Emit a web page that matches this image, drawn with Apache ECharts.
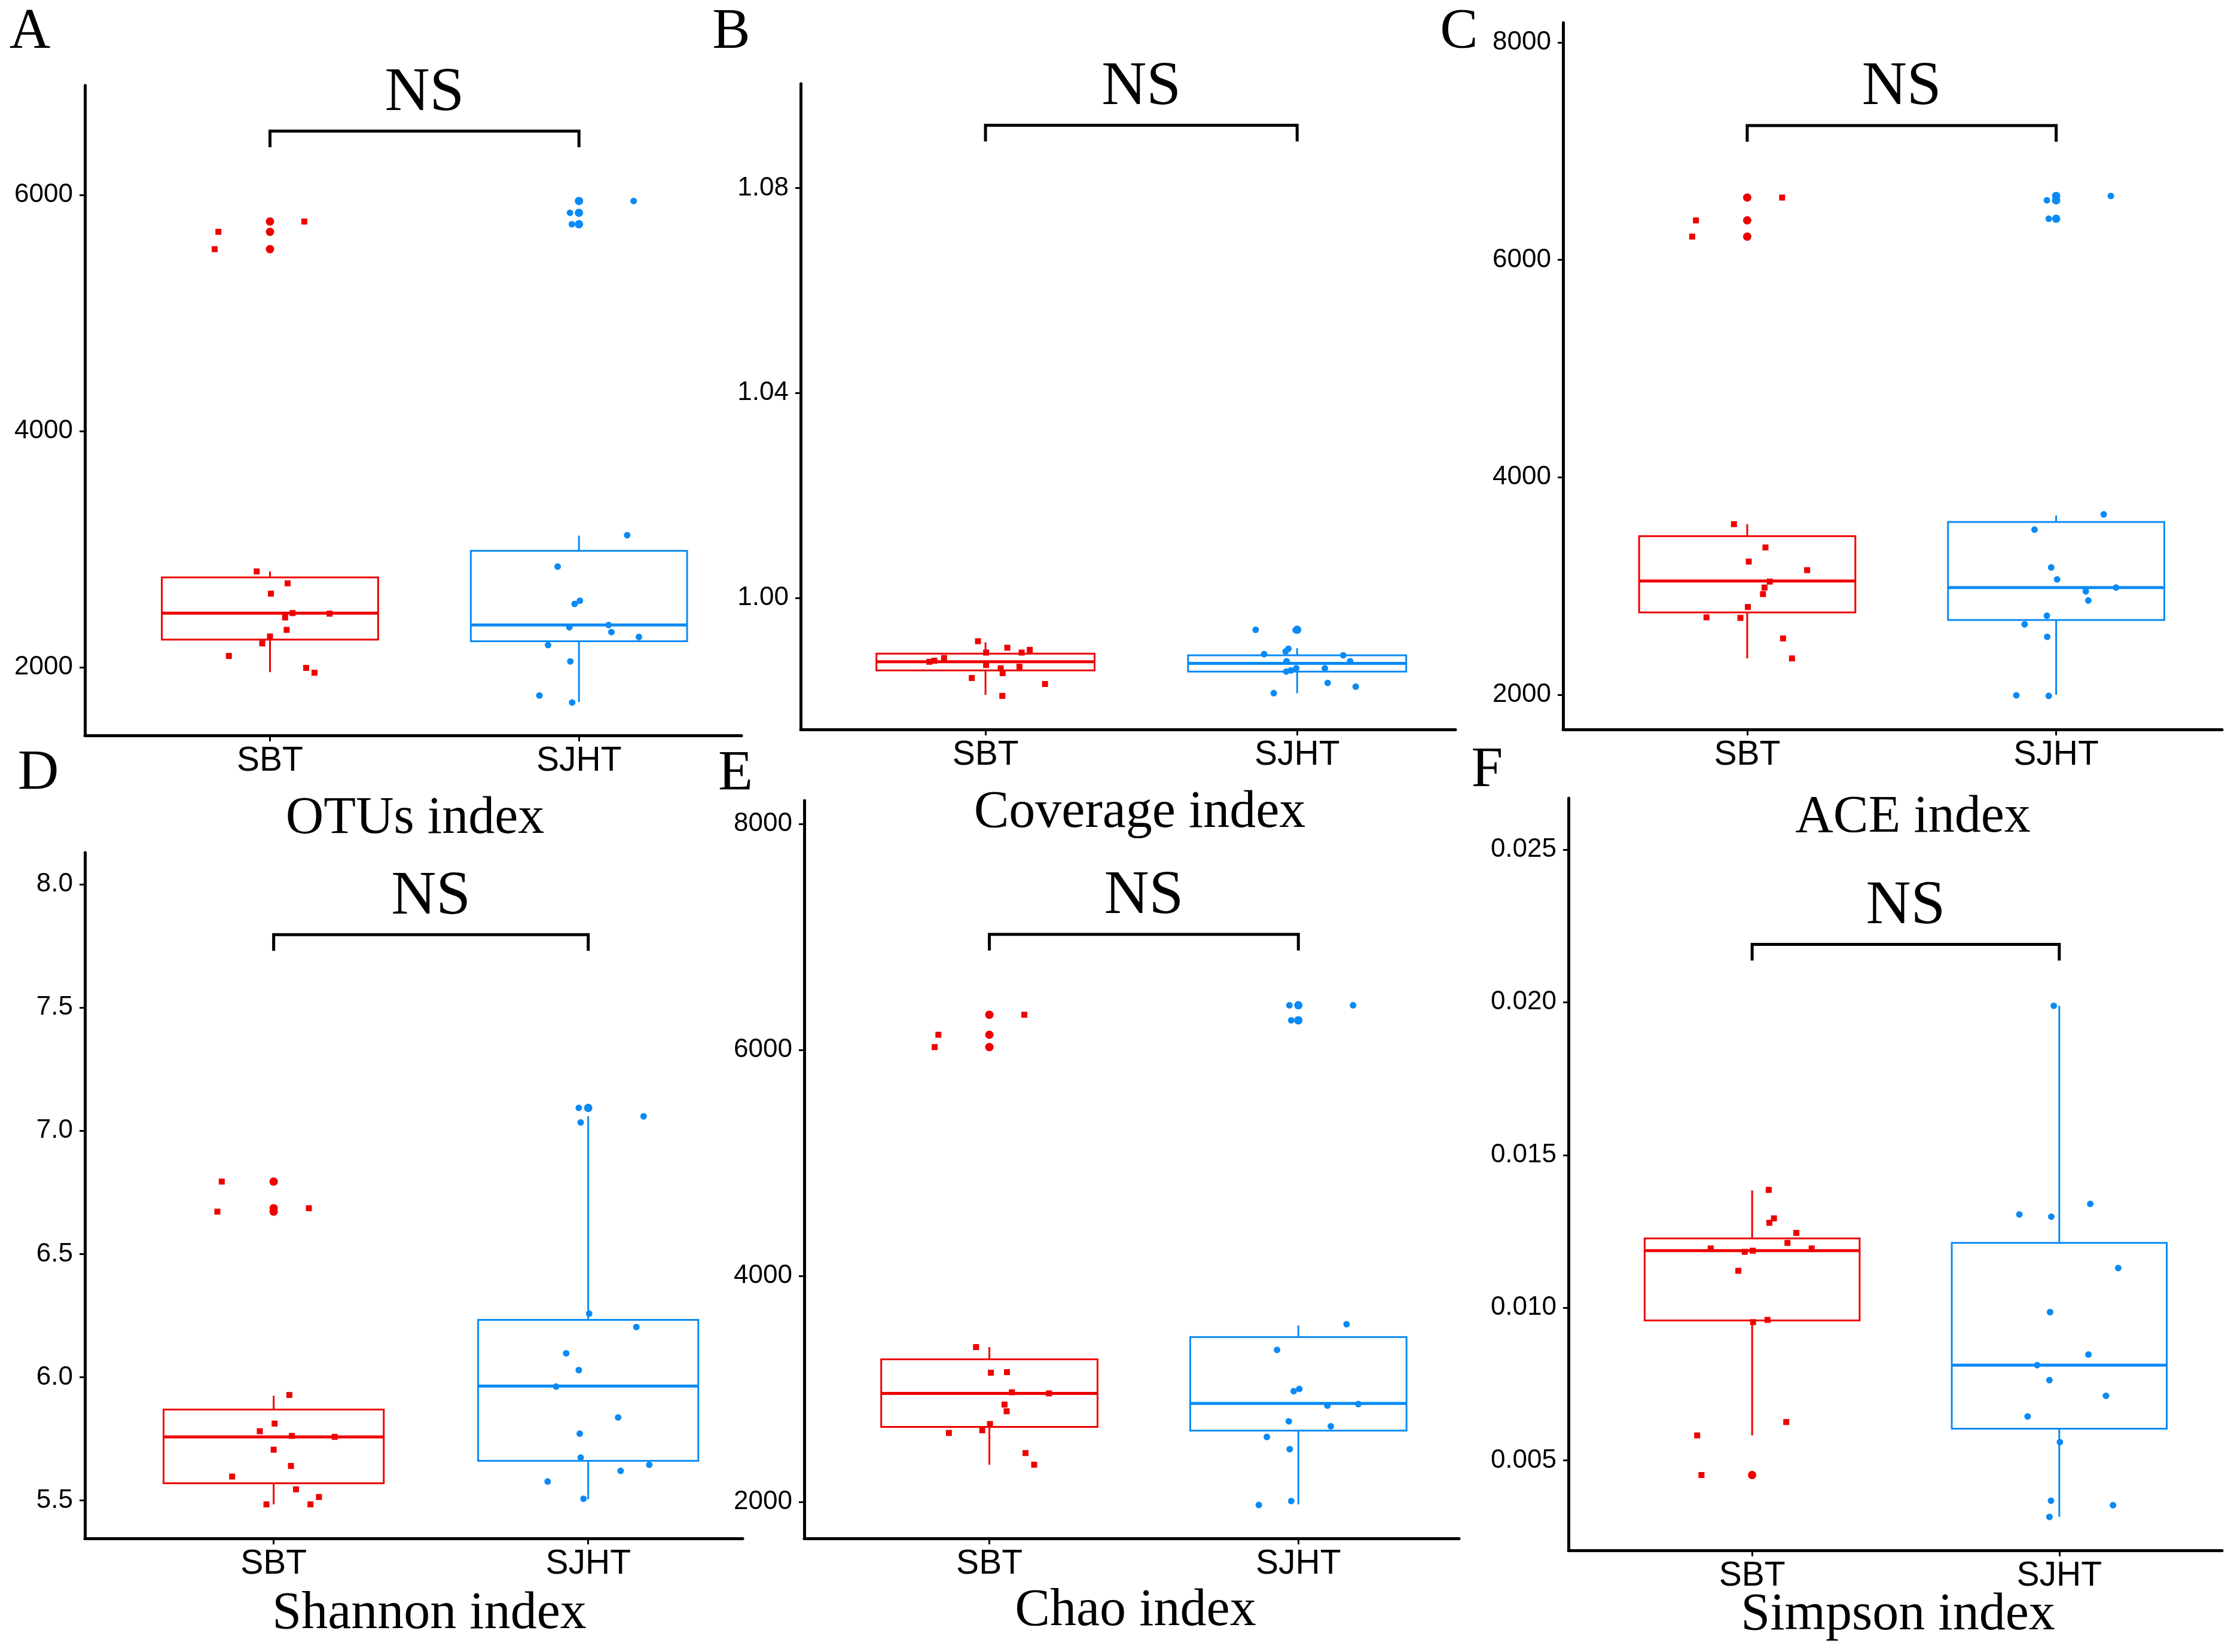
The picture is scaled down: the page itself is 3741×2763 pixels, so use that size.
<!DOCTYPE html>
<html>
<head>
<meta charset="utf-8">
<title>Alpha diversity</title>
<script src="https://cdn.jsdelivr.net/npm/echarts@6/dist/echarts.min.js"></script>
<style>
  html, body { margin: 0; padding: 0; background: #fff; }
  #main { width: 3741px; height: 2763px; }
</style>
</head>
<body>
<div id="main"></div>
<script>
// groups
const groups = ['SBT', 'SJHT'];

// box stats per group: [lower whisker, q1, median, q3, upper whisker]
// A - OTUs
const otusBox = [[1959, 2234, 2459, 2761, 2812], [1706, 2220, 2358, 2986, 3115]];
const otusOutSbt = [5775, 5688, 5541];
const otusOutSjht = [5949, 5849, 5752];
const otusSbtJx = [-0.167, -0.179, 0.111, -0.043, 0.057, 0.003, 0.073, 0.193, 0.049, 0.054, 0, -0.025, -0.133, 0.117, 0.144];
const otusSbtY = [5688, 5541, 5775, 2812, 2711, 2624, 2459, 2454, 2422, 2317, 2261, 2202, 2096, 1995, 1954];
const otusSjhtJx = [-0.029, -0.023, 0.177, 0.156, -0.069, -0.014, 0.003, -0.031, 0.096, 0.105, 0.194, -0.100, -0.028, -0.128, -0.022];
const otusSjhtY = [5849, 5752, 5949, 3119, 2853, 2537, 2564, 2339, 2358, 2298, 2257, 2188, 2050, 1761, 1702];
const otusTicks = [2000, 4000, 6000];

// B - Coverage
const covBox = [[0.98106, 0.98582, 0.98751, 0.98910, 0.99132], [0.98138, 0.98561, 0.98720, 0.98878, 0.99016]];
const covOutSbt = [];
const covOutSjht = [0.99376];
const covSbtJx = [-0.024, 0.070, 0.116, 0.142, 0.002, -0.133, -0.164, -0.180, 0.002, 0.109, 0.049, 0.055, -0.044, 0.191, 0.054];
const covSbtY = [0.99153, 0.99026, 0.98931, 0.98984, 0.98931, 0.98825, 0.98772, 0.98751, 0.98688, 0.98656, 0.98624, 0.98529, 0.98434, 0.98317, 0.98085];
const covSjhtJx = [-0.133, -0.005, -0.106, -0.037, -0.028, -0.034, 0.148, 0.170, -0.035, -0.020, -0.003, 0.089, 0.098, 0.188, -0.075];
const covSjhtY = [0.99376, 0.99370, 0.98900, 0.98953, 0.99005, 0.98762, 0.98878, 0.98762, 0.98561, 0.98582, 0.98624, 0.98624, 0.98339, 0.98265, 0.98138];
const covTicks = [1.00, 1.04, 1.08];

// C - ACE
const aceBox = [[2334, 2757, 3046, 3459, 3569], [2000, 2687, 2986, 3589, 3649]];
const aceOutSbt = [6573, 6363, 6214];
const aceOutSjht = [6588, 6548, 6378];
const aceSbtJx = [-0.166, -0.178, 0.113, -0.043, 0.059, 0.005, 0.073, 0.194, 0.056, 0.051, 0.002, -0.022, -0.132, 0.116, 0.145];
const aceSbtY = [6363, 6214, 6573, 3569, 3355, 3225, 3041, 3146, 2986, 2926, 2807, 2707, 2712, 2518, 2334];
const aceSjhtJx = [-0.030, -0.024, 0.177, 0.154, -0.070, -0.016, 0.003, 0.096, 0.104, 0.194, -0.102, -0.030, -0.029, -0.129, -0.024];
const aceSjhtY = [6548, 6378, 6588, 3659, 3519, 3171, 3061, 2951, 2867, 2986, 2648, 2727, 2533, 1995, 1990];
const aceTicks = [2000, 4000, 6000, 8000];

// D - Shannon
const shanBox = [[5.484, 5.570, 5.758, 5.869, 5.925], [5.505, 5.661, 5.964, 6.233, 7.059]];
const shanOutSbt = [6.794, 6.686, 6.672];
const shanOutSjht = [7.093];
const shanSbtJx = [-0.165, -0.179, 0.112, 0.050, 0.003, -0.044, 0.058, 0.194, 0.000, 0.055, -0.132, 0.071, -0.023, 0.117, 0.144];
const shanSbtY = [6.794, 6.672, 6.686, 5.928, 5.812, 5.781, 5.762, 5.758, 5.706, 5.640, 5.597, 5.545, 5.484, 5.484, 5.514];
const shanSjhtJx = [-0.030, -0.024, 0.176, 0.003, 0.153, -0.070, -0.030, -0.102, 0.095, -0.027, -0.024, -0.129, 0.103, 0.194, -0.015];
const shanSjhtY = [7.093, 7.034, 7.059, 6.258, 6.204, 6.097, 6.029, 5.962, 5.837, 5.771, 5.674, 5.577, 5.620, 5.645, 5.507];
const shanTicks = [5.5, 6.0, 6.5, 7.0, 7.5, 8.0];

// E - Chao
const chaoBox = [[2331, 2666, 2962, 3263, 3372], [1980, 2632, 2873, 3460, 3564]];
const chaoOutSbt = [6312, 6135, 6026];
const chaoOutSjht = [6396, 6263];
const chaoSbtJx = [-0.165, -0.177, 0.113, -0.043, 0.057, 0.005, 0.073, 0.193, 0.049, 0.056, 0.002, -0.023, -0.131, 0.117, 0.145];
const chaoSbtY = [6135, 6026, 6312, 3372, 3150, 3145, 2972, 2962, 2863, 2804, 2691, 2636, 2612, 2434, 2331];
const chaoSjhtJx = [-0.029, -0.023, 0.177, 0.156, -0.069, -0.015, 0.003, 0.094, 0.105, 0.194, -0.102, -0.031, -0.028, -0.128, -0.023];
const chaoSjhtY = [6396, 6263, 6396, 3574, 3347, 2982, 3002, 2854, 2671, 2868, 2577, 2715, 2469, 1975, 2010];
const chaoTicks = [2000, 4000, 6000, 8000];

// F - Simpson
const simpBox = [[0.005822, 0.009585, 0.011868, 0.012270, 0.013840], [0.003155, 0.006041, 0.008123, 0.012123, 0.019886]];
const simpOutSbt = [0.004525];
const simpOutSjht = [];
const simpSbtJx = [0.054, 0.071, 0.056, 0.144, 0.115, -0.135, 0.194, -0.024, 0.002, -0.045, 0.003, 0.050, 0.111, -0.179, -0.165];
const simpSbtY = [0.013858, 0.012927, 0.012781, 0.012452, 0.012123, 0.011941, 0.011941, 0.011831, 0.011868, 0.011210, 0.009530, 0.009603, 0.006260, 0.005822, 0.004525];
const simpSjhtJx = [-0.018, -0.130, -0.026, 0.101, 0.192, -0.030, 0.095, -0.072, -0.032, 0.152, -0.103, 0.002, -0.027, 0.175, -0.032];
const simpSjhtY = [0.019886, 0.013055, 0.012982, 0.013402, 0.011301, 0.009858, 0.008470, 0.008123, 0.007630, 0.007119, 0.006443, 0.005603, 0.003685, 0.003539, 0.003155];
const simpTicks = [0.005, 0.010, 0.015, 0.020, 0.025];

// significance bracket level (data units)
const bracketLevels = [6541, 1.09228, 7235, 7.796, 7023, 0.021895];

const colors = ['#EE0000', '#0A8AF5'];
const serif = '"Liberation Serif", "Times New Roman", serif';
const sans = '"Liberation Sans", Arial, sans-serif';

// layout of the six panels
const panels = [
  {letter: 'A', title: 'OTUs index', box: otusBox, out: [otusOutSbt, otusOutSjht], jx: [otusSbtJx, otusSjhtJx], jy: [otusSbtY, otusSjhtY], ticks: otusTicks, dec: 0,
   grid: [142, 143, 1240, 1230], x: [0.401, 2.526], y: [1423, 6927], letterPos: [50, 55], titlePos: [694, 1370]},
  {letter: 'B', title: 'Coverage index', box: covBox, out: [covOutSbt, covOutSjht], jx: [covSbtJx, covSjhtJx], jy: [covSbtY, covSjhtY], ticks: covTicks, dec: 2,
   grid: [1339, 140, 2434, 1220], x: [0.407, 2.508], y: [0.9743, 1.1004], letterPos: [1223, 55], titlePos: [1906, 1360]},
  {letter: 'C', title: 'ACE index', box: aceBox, out: [aceOutSbt, aceOutSjht], jx: [aceSbtJx, aceSjhtJx], jy: [aceSbtY, aceSjhtY], ticks: aceTicks, dec: 0,
   grid: [2614, 38, 3716, 1220], x: [0.404, 2.537], y: [1681, 8181], letterPos: [2440, 55], titlePos: [3199, 1368]},
  {letter: 'D', title: 'Shannon index', box: shanBox, out: [shanOutSbt, shanOutSjht], jx: [shanSbtJx, shanSjhtJx], jy: [shanSbtY, shanSjhtY], ticks: shanTicks, dec: 1,
   grid: [142, 1426, 1242, 2573], x: [0.400, 2.491], y: [5.346, 8.129], letterPos: [64, 1295], titlePos: [718, 2700]},
  {letter: 'E', title: 'Chao index', box: chaoBox, out: [chaoOutSbt, chaoOutSjht], jx: [chaoSbtJx, chaoSjhtJx], jy: [chaoSbtY, chaoSjhtY], ticks: chaoTicks, dec: 0,
   grid: [1345, 1339, 2440, 2573], x: [0.401, 2.520], y: [1679, 8207], letterPos: [1230, 1296], titlePos: [1899, 2695]},
  {letter: 'F', title: 'Simpson index', box: simpBox, out: [simpOutSbt, simpOutSjht], jx: [simpSbtJx, simpSjhtJx], jy: [simpSbtY, simpSjhtY], ticks: simpTicks, dec: 3,
   grid: [2623, 1335, 3716, 2593], x: [0.402, 2.530], y: [0.002059, 0.02668], letterPos: [2487, 1290], titlePos: [3174, 2702]}
];

const boxHalf = 0.35;

function renderBox(params, api) {
  const x = api.value(0);
  const color = colors[params.dataIndex];
  const tl = api.coord([x - boxHalf, api.value(4)]);
  const br = api.coord([x + boxHalf, api.value(2)]);
  const ml = api.coord([x - boxHalf, api.value(3)]);
  const mr = api.coord([x + boxHalf, api.value(3)]);
  const hi = api.coord([x, api.value(5)]);
  const lo = api.coord([x, api.value(1)]);
  const cx = hi[0];
  const ls = {stroke: color, lineWidth: 3};
  return {
    type: 'group',
    children: [
      {type: 'line', shape: {x1: cx, y1: hi[1], x2: cx, y2: tl[1]}, style: ls},
      {type: 'line', shape: {x1: cx, y1: br[1], x2: cx, y2: lo[1]}, style: ls},
      {type: 'rect', shape: {x: tl[0], y: tl[1], width: br[0] - tl[0], height: br[1] - tl[1]},
       style: {fill: 'transparent', stroke: color, lineWidth: 3}},
      {type: 'line', shape: {x1: ml[0], y1: ml[1], x2: mr[0], y2: mr[1]}, style: {stroke: color, lineWidth: 5}}
    ]
  };
}

function renderBracket(params, api) {
  const y = api.value(1);
  const p1 = api.coord([1, y]);
  const p2 = api.coord([2, y]);
  const drop = 27;
  return {
    type: 'group',
    children: [
      {type: 'polyline', shape: {points: [[p1[0], p1[1] + drop], p1, p2, [p2[0], p2[1] + drop]]},
       style: {stroke: '#000', lineWidth: 5, fill: null}},
      {type: 'text', x: (p1[0] + p2[0]) / 2, y: p1[1] - 63,
       style: {text: 'NS', fill: '#000', fontSize: 104, fontFamily: serif, align: 'center', verticalAlign: 'middle'}}
    ]
  };
}

const grid = [], xAxis = [], yAxis = [], series = [], graphic = [];

panels.forEach(function (p, i) {
  grid.push({left: p.grid[0], top: p.grid[1], width: p.grid[2] - p.grid[0], height: p.grid[3] - p.grid[1]});
  xAxis.push({
    type: 'value', gridIndex: i, min: p.x[0], max: p.x[1],
    axisLine: {show: true, onZero: false, lineStyle: {color: '#000', width: 5}},
    axisTick: {show: true, customValues: [1, 2], length: 10, lineStyle: {color: '#000', width: 3}},
    axisLabel: {customValues: [1, 2], margin: 15, color: '#000', fontSize: 57, fontFamily: sans,
      formatter: function (v) { return groups[Math.round(v) - 1]; }},
    splitLine: {show: false}
  });
  yAxis.push({
    type: 'value', gridIndex: i, min: p.y[0], max: p.y[1],
    axisLine: {show: true, onZero: false, lineStyle: {color: '#000', width: 5}},
    axisTick: {show: true, customValues: p.ticks, length: 9, lineStyle: {color: '#000', width: 3}},
    axisLabel: {customValues: p.ticks, margin: 20, color: '#000', fontSize: 44, fontFamily: sans,
      formatter: function (v) { return v.toFixed(p.dec); }},
    splitLine: {show: false}
  });

  series.push({
    type: 'custom', xAxisIndex: i, yAxisIndex: i, renderItem: renderBox, z: 2,
    data: p.box.map(function (b, g) { return [g + 1].concat(b); }),
    encode: {x: 0, y: [1, 2, 3, 4, 5]}
  });
  p.out.forEach(function (vals, g) {
    series.push({
      type: 'scatter', xAxisIndex: i, yAxisIndex: i, symbol: 'circle', symbolSize: 14, z: 3,
      itemStyle: {color: colors[g], opacity: 1},
      data: vals.map(function (v) { return [g + 1, v]; })
    });
  });
  p.jx.forEach(function (offs, g) {
    series.push({
      type: 'scatter', xAxisIndex: i, yAxisIndex: i,
      symbol: g === 0 ? 'rect' : 'circle', symbolSize: g === 0 ? 10 : 11, z: 4,
      itemStyle: {color: colors[g], opacity: 1},
      data: offs.map(function (d, k) { return [g + 1 + d, p.jy[g][k]]; })
    });
  });
  series.push({
    type: 'custom', xAxisIndex: i, yAxisIndex: i, renderItem: renderBracket, z: 5,
    data: [[1.5, bracketLevels[i]]], encode: {x: 0, y: 1}
  });

  graphic.push({type: 'text', x: p.letterPos[0], y: p.letterPos[1],
    style: {text: p.letter, fill: '#000', fontSize: 95, fontFamily: serif, align: 'center', verticalAlign: 'middle'}});
  graphic.push({type: 'text', x: p.titlePos[0], y: p.titlePos[1],
    style: {text: p.title, fill: '#000', fontSize: 88, fontFamily: serif, align: 'center', verticalAlign: 'middle'}});
});

const myChart = echarts.init(document.getElementById('main'));
myChart.setOption({
  backgroundColor: '#fff',
  animation: false,
  grid: grid,
  xAxis: xAxis,
  yAxis: yAxis,
  series: series,
  graphic: graphic
});
</script>
</body>
</html>
